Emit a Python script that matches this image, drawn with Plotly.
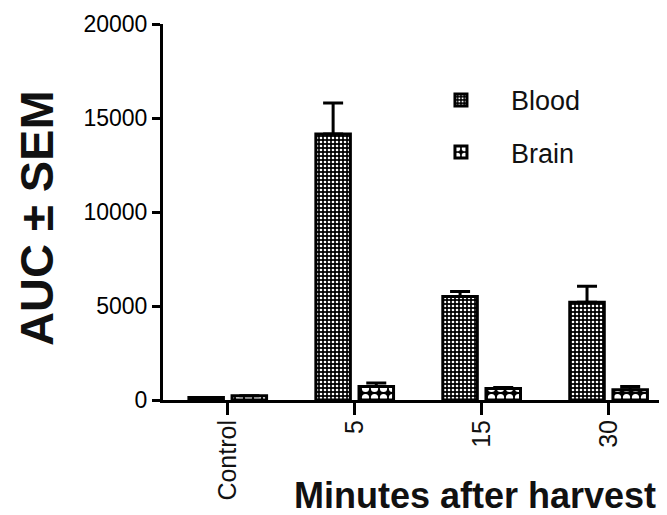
import plotly.graph_objects as go

categories = ["Control", "5", "15", "30"]
blood_auc = [130, 14150, 5500, 5200]
blood_sem = [0, 1650, 270, 850]
brain_auc = [220, 720, 610, 550]
brain_sem = [0, 180, 60, 170]
y_ticks = [0, 5000, 10000, 15000, 20000]

FONT = "Liberation Sans, Arial, sans-serif"

fig = go.Figure()
fig.add_trace(go.Bar(
    x=categories, y=blood_auc, name="Blood", legendgroup="a",
    marker=dict(color="black", line=dict(color="black", width=3),
                pattern=dict(shape=".", fgcolor="white", bgcolor="black",
                             size=4, solidity=0.35, fillmode="replace")),
    error_y=dict(type="data", symmetric=False, array=blood_sem,
                 arrayminus=[0] * len(blood_sem), color="black",
                 thickness=3, width=10),
))
fig.add_trace(go.Bar(
    x=categories, y=brain_auc, name="Brain", legendgroup="b",
    marker=dict(color="black", line=dict(color="black", width=3),
                pattern=dict(shape=".", fgcolor="white", bgcolor="black",
                             size=9, solidity=0.5, fillmode="replace")),
    error_y=dict(type="data", symmetric=False, array=brain_sem,
                 arrayminus=[0] * len(brain_sem), color="black",
                 thickness=3, width=10),
))

fig.update_layout(
    width=659, height=507,
    margin=dict(l=155, r=0, t=16, b=115),
    paper_bgcolor="white", plot_bgcolor="white",
    barmode="group", bargap=0.32, bargroupgap=0.2,
    font=dict(family=FONT, color="#111"),
    showlegend=True,
    legend=dict(x=0.492, y=0.862, xanchor="left", yanchor="top",
                font=dict(size=27, family=FONT, color="#111"),
                itemwidth=90,
                tracegroupgap=14, bgcolor="rgba(0,0,0,0)"),
    xaxis=dict(type="category", range=[-0.51, 3.46],
               showline=True, linecolor="black", linewidth=3,
               ticks="outside", ticklen=12, tickwidth=3, tickcolor="black",
               tickangle=-90, ticklabelstandoff=-5,
               tickfont=dict(size=25, family=FONT, color="#111"),
               showgrid=False, zeroline=False, automargin=False),
    yaxis=dict(range=[0, 20000], tickvals=y_ticks,
               ticktext=[str(v) for v in y_ticks],
               showline=True, linecolor="black", linewidth=3,
               ticks="outside", ticklen=8, tickwidth=3, tickcolor="black",
               tickfont=dict(size=23, family=FONT, color="#000"),
               showgrid=False, zeroline=False, automargin=False),
    annotations=[
        dict(text="<b>AUC ± SEM</b>", xref="paper", yref="paper",
             x=-0.252, y=0.484, xanchor="center", yanchor="middle",
             textangle=-90, showarrow=False,
             font=dict(size=47, family=FONT, color="#111")),
        dict(text="<b>Minutes after harvest</b>", xref="paper", yref="paper",
             x=0.619, y=-0.253, xanchor="center", yanchor="middle",
             showarrow=False, font=dict(size=36, family=FONT, color="#111")),
    ],
)

fig.write_html("out.html")
